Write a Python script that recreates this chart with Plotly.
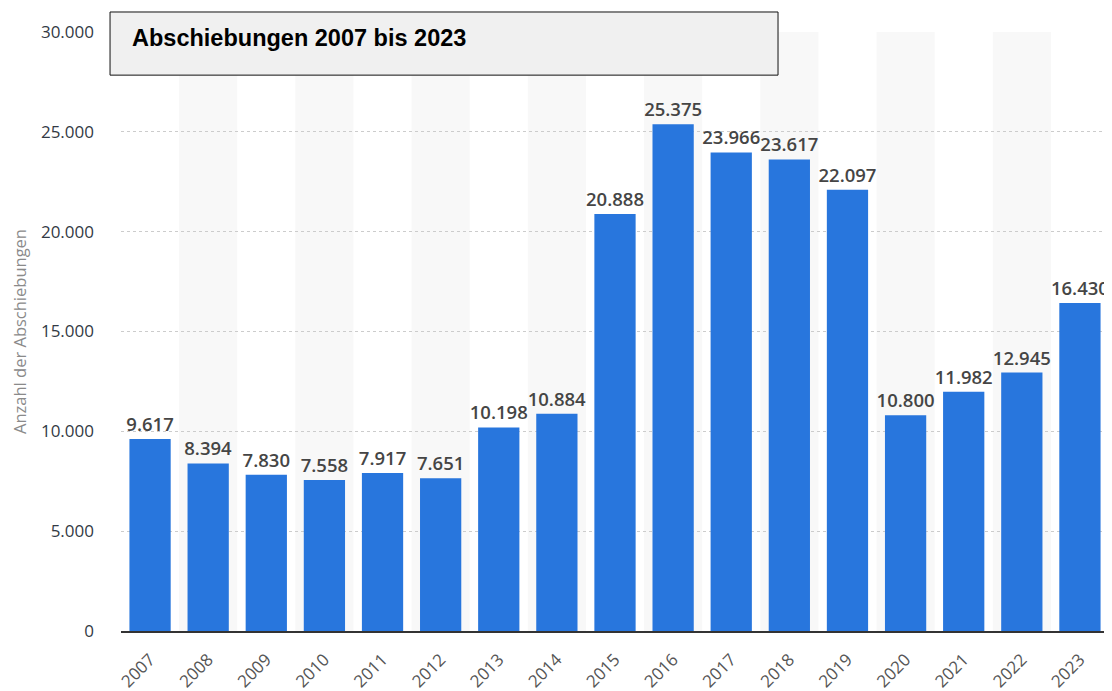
import plotly.graph_objects as go

years = ["2007", "2008", "2009", "2010", "2011", "2012", "2013", "2014", "2015",
         "2016", "2017", "2018", "2019", "2020", "2021", "2022", "2023"]
deportations = [9617, 8394, 7830, 7558, 7917, 7651, 10198, 10884, 20888,
                25375, 23966, 23617, 22097, 10800, 11982, 12945, 16430]
y_ticks = [0, 5000, 10000, 15000, 20000, 25000, 30000]
title_text = "Abschiebungen 2007 bis 2023"
y_title = "Anzahl der Abschiebungen"

fig = go.Figure()
fig.add_trace(go.Bar(
    x=years, y=deportations,
    marker=dict(color="#2876dd", line=dict(width=0)),
    texttemplate="%{y:,d}", textposition="outside", cliponaxis=False,
    constraintext="none",
    textfont=dict(family="Open Sans", size=18.5, color="#454545", weight=600),
    hoverinfo="skip",
))

shapes = []
for i in range(len(years)):
    if i % 2 == 1:
        shapes.append(dict(type="rect", xref="x", yref="paper", x0=i - 0.5, x1=i + 0.5,
                           y0=0, y1=1, fillcolor="#f8f8f8", line=dict(width=0), layer="below"))
# title box
shapes.append(dict(type="rect", xref="paper", yref="paper", x0=-0.0111, x1=0.665,
                   y0=0.928, y1=1.0334, fillcolor="#f0f0f0",
                   line=dict(color="#111111", width=1), layer="above"))

fig.update_layout(
    width=1104, height=683,
    margin=dict(l=113, r=3, t=24, b=60, pad=0, autoexpand=False),
    paper_bgcolor="white", plot_bgcolor="white",
    separators=",.",
    bargap=0.29,
    showlegend=False,
    shapes=shapes,
    annotations=[dict(text="<b>" + title_text + "</b>", xref="paper", yref="paper",
                      x=0.009, y=0.99, xanchor="left", yanchor="middle", showarrow=False,
                      font=dict(family="Liberation Sans, Arial", size=23.5, color="#000000"))],
    xaxis=dict(type="category", tickangle=-45, showgrid=False, automargin=False,
               tickfont=dict(family="Open Sans", size=17, color="#555555"),
               ticklabelstandoff=10,
               showline=True, linecolor="#333333", linewidth=2, ticks=""),
    yaxis=dict(range=[0, 30000], tickvals=y_ticks, tickformat=",d", automargin=False,
               showgrid=True, gridcolor="#cccccc", griddash="dot", gridwidth=1,
               zeroline=False, showline=False, ticks="", ticklabelstandoff=26,
               tickfont=dict(family="Open Sans", size=17, color="#333a45"),
               title=dict(text=y_title, standoff=12,
                          font=dict(family="Open Sans", size=16.5, color="#8a8a8a"))),
)

fig.write_html("out.html")
